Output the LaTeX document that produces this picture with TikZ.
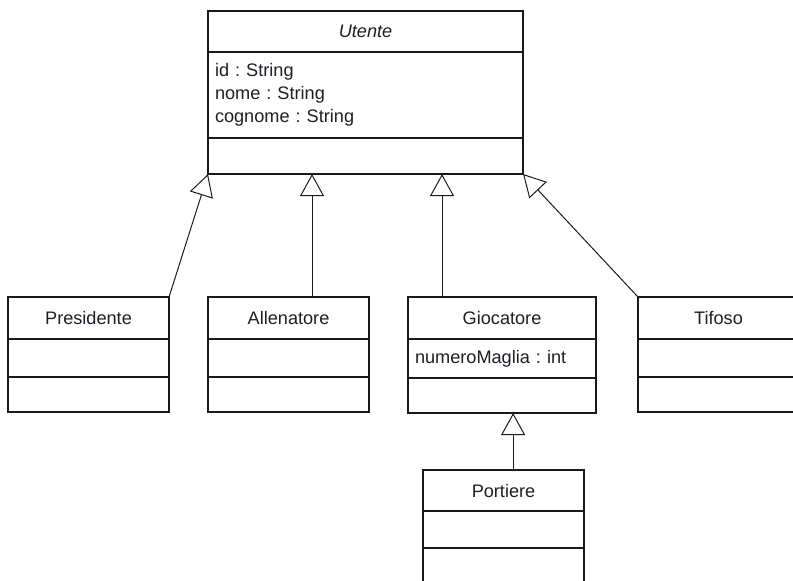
\documentclass[tikz,border=0pt]{standalone}
\usepackage{fontspec}
\setmainfont{Liberation Sans}
\frenchspacing
\usetikzlibrary{arrows.meta,positioning}
\definecolor{lineclr}{RGB}{25,25,25}
\definecolor{txtclr}{RGB}{30,30,40}
\tikzset{
  cname/.style={rectangle,draw=lineclr,line width=0.9pt,fill=white,
    minimum width=4.025cm,minimum height=1.05cm,inner sep=0pt,outer sep=0pt,
    font=\fontsize{12.9}{16.3}\selectfont,text=txtclr},
  cattr/.style={cname,minimum height=0.95cm,text width=3.675cm,
    align=left,inner xsep=0.175cm},
  cops/.style={cname,minimum height=0.875cm},
  gname/.style={cname,minimum width=4.7cm},
  gattr/.style={cattr,text width=4.35cm},
  gops/.style={cops,minimum width=4.7cm},
  wname/.style={cname,minimum width=7.875cm,minimum height=1.025cm},
  wattr/.style={cattr,text width=7.525cm,minimum height=2.15cm},
  wops/.style={cops,minimum width=7.875cm,minimum height=0.9cm},
  gen/.style={-{Triangle[open,length=0.55cm,width=0.6cm,fill=white]},
    line width=0.7pt,draw=lineclr},
}

\begin{document}
\begin{tikzpicture}[x=0.025cm,y=-0.025cm]
  \path[use as bounding box] (0,0) rectangle (793,580);
  \clip (0,0) rectangle (793,580);

  % abstract base class
  \node[wname,anchor=north west] (utente) at (208,11) {\itshape Utente};
  \node[wattr,below=0pt of utente] (utente-a)
    {id : String\\nome : String\\cognome : String};
  \node[wops,below=0pt of utente-a] (utente-m) {};

  % subclasses
  \node[cname,anchor=north west] (presidente) at (8,297) {Presidente};
  \node[cattr,below=0pt of presidente] (presidente-a) {};
  \node[cops,below=0pt of presidente-a] (presidente-m) {};

  \node[cname,anchor=north west] (allenatore) at (208,297) {Allenatore};
  \node[cattr,below=0pt of allenatore] (allenatore-a) {};
  \node[cops,below=0pt of allenatore-a] (allenatore-m) {};

  \node[gname,anchor=north west] (giocatore) at (408,297) {Giocatore};
  \node[gattr,below=0pt of giocatore,minimum height=0.975cm] (giocatore-a)
    {numeroMaglia : int};
  \node[gops,below=0pt of giocatore-a] (giocatore-m) {};

  \node[cname,anchor=north west] (tifoso) at (638,297) {Tifoso};
  \node[cattr,below=0pt of tifoso] (tifoso-a) {};
  \node[cops,below=0pt of tifoso-a] (tifoso-m) {};

  \node[cname,anchor=north west,minimum height=1.025cm] (portiere) at (423,470) {Portiere};
  \node[cattr,below=0pt of portiere,minimum height=0.925cm] (portiere-a) {};
  \node[cops,below=0pt of portiere-a] (portiere-m) {};

  % generalisations
  \draw[gen] (presidente.north east) -- (utente-m.south west);
  \draw[gen] ([xshift=0.5875cm]allenatore.north)
    -- ([xshift=0.5875cm]allenatore.north |- utente-m.south);
  \draw[gen] ([xshift=-1.5cm]giocatore.north)
    -- ([xshift=-1.5cm]giocatore.north |- utente-m.south);
  \draw[gen] (tifoso.north west) -- (utente-m.south east);
  \draw[gen] ([xshift=0.24cm]portiere.north)
    -- ([xshift=0.24cm]portiere.north |- giocatore-m.south);
\end{tikzpicture}
\end{document}
